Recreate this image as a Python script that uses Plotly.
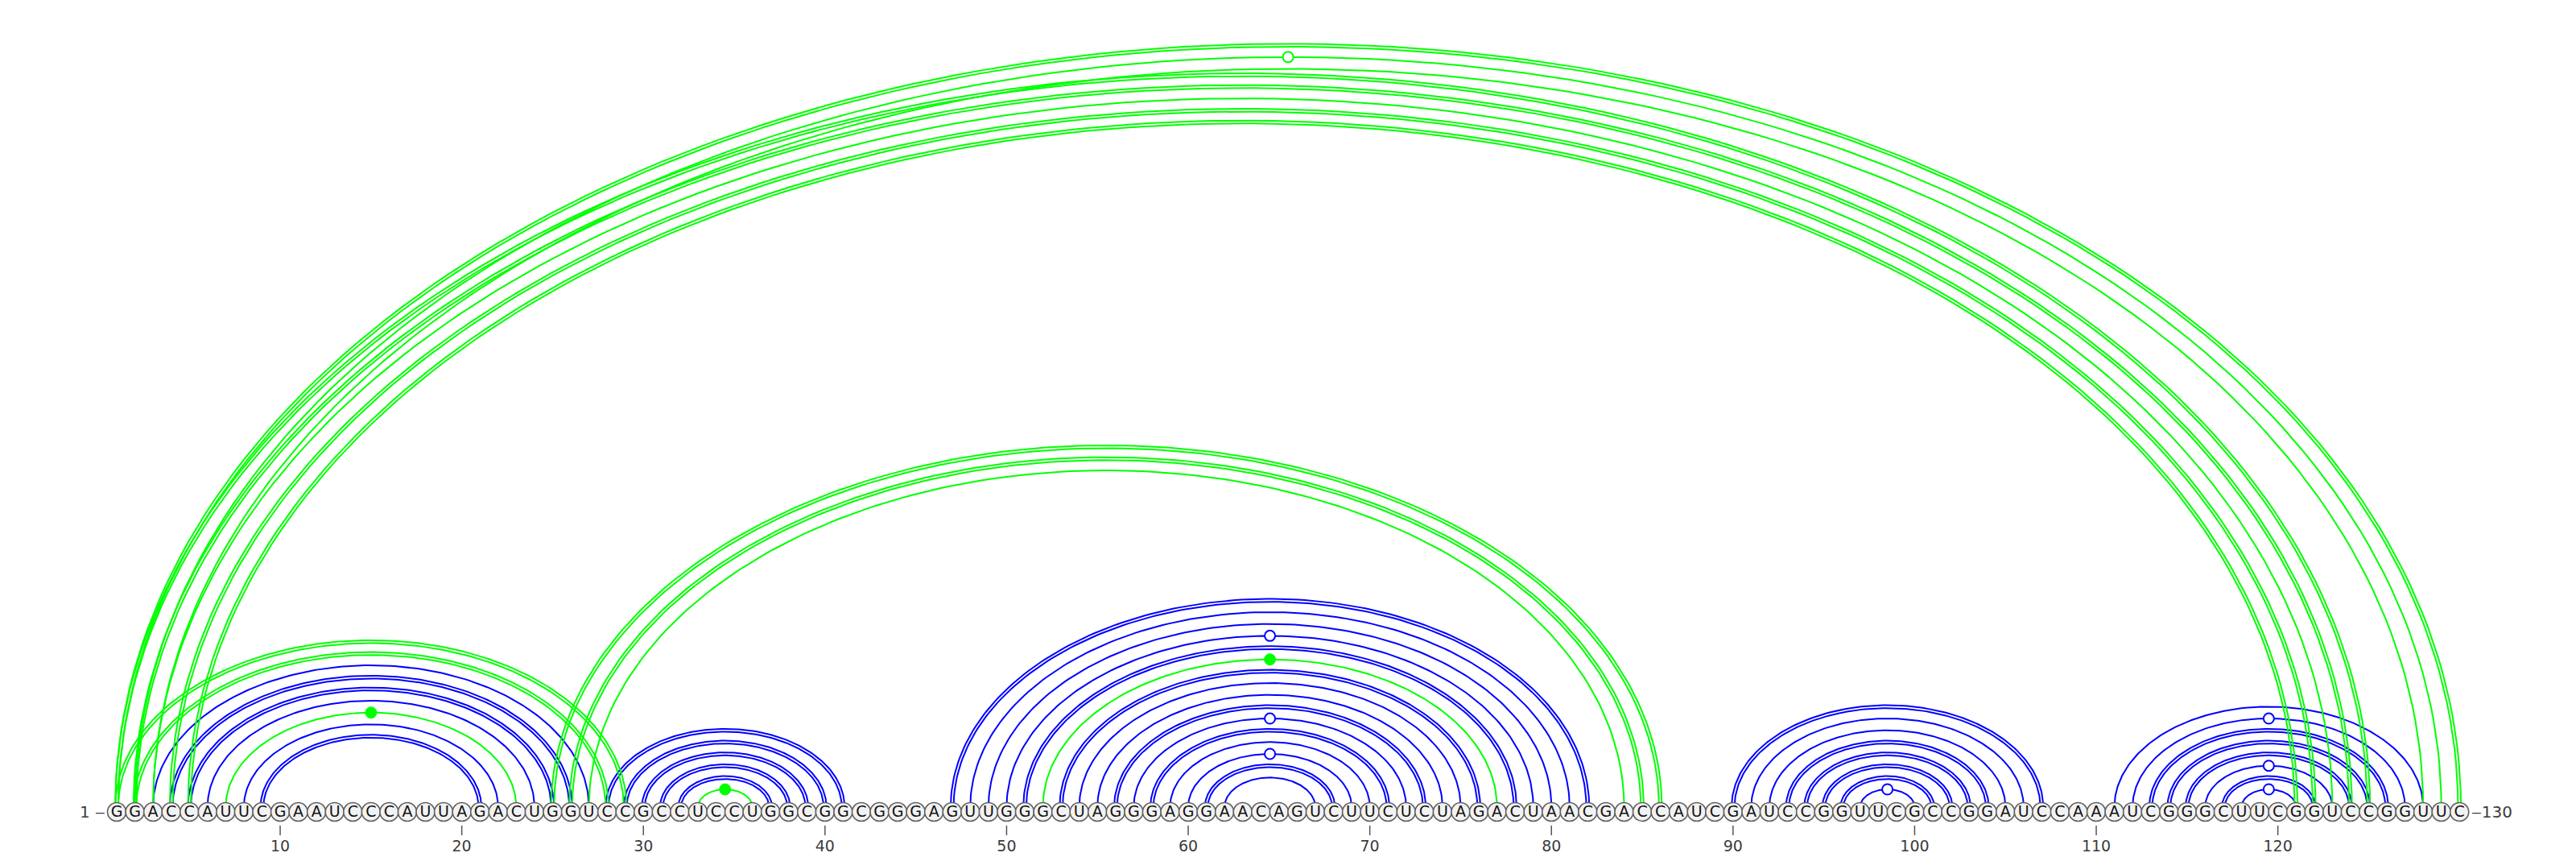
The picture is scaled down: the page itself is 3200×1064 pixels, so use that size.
import numpy as np
import plotly.graph_objects as go

# sequence (10 nt per chunk)
SEQUENCE = ("GGACCAUUCG" "AAUCCCAUUA" "GACUGGUCCG" "CCUCCUGGCG" "GCGGGAGUUG"
            "GGCUAGGGAG" "GAACAGUCUU" "CUCUAGACUA" "ACGACCAUCG" "AUCCGGUUCG"
            "CCGGAUCCAA" "AUCGGGCUUC" "GGUCCGGUUC")

# blue structure
BLUE_PAIRS = [
    (3, 27), (4, 26), (5, 25), (6, 24), (8, 22), (9, 21),
    (28, 41), (29, 40), (30, 39), (31, 38), (32, 37),
    (47, 82), (48, 81), (49, 80), (50, 79), (51, 78), (53, 76), (54, 75),
    (55, 74), (56, 73), (57, 72), (58, 71), (59, 70), (60, 69), (61, 68), (62, 67),
    (90, 107), (91, 106), (92, 105), (93, 104), (94, 103), (95, 102), (96, 101), (97, 100),
    (111, 128), (112, 127), (113, 126), (114, 125), (115, 124), (116, 123), (117, 122), (118, 121),
]

# green structure
GREEN_PAIRS = [
    (1, 29), (2, 28), (7, 23), (33, 36), (52, 77),
    (25, 86), (26, 85), (27, 84),
    (1, 125), (2, 124), (3, 123), (4, 122), (5, 121),
    (1, 130), (2, 129), (3, 128),
]

TICKS = [10, 20, 30, 40, 50, 60, 70, 80, 90, 100, 110, 120]

BLUE = "#0000ff"
GREEN = "#00ff00"
LABEL = "#3c3c3c"

W, H = 3200, 1064
PX_PER_NT = 22.56
X0_PX = 145            # pixel x of nucleotide 1
BASE_Y = 56            # circle centre (y from bottom, px)
ARC_Y0 = 62            # where arcs leave the baseline
ARC_H = 0.65 * PX_PER_NT   # arc height per nt of radius
GAP_PX = 1.8           # half gap of the double (GC) lines

N = len(SEQUENCE)


def pair_kind(i, j):
    s = {SEQUENCE[i - 1], SEQUENCE[j - 1]}
    if s == {"G", "C"}:
        return "GC"
    if s == {"A", "U"}:
        return "AU"
    if s == {"G", "U"}:
        return "GU"
    return "NC"


def arc(i, j, off=0.0):
    t = np.linspace(0, np.pi, 160)
    c = (i + j) / 2
    a = (j - i) / 2 + off / PX_PER_NT
    b = (j - i) / 2 * ARC_H + off
    return list(c - a * np.cos(t)), list(ARC_Y0 + b * np.sin(t))


def arc_traces(pairs, color):
    xs, ys = [], []
    hol_x, hol_y, fil_x, fil_y = [], [], [], []
    for i, j in pairs:
        kind = pair_kind(i, j)
        offs = [-GAP_PX, GAP_PX] if kind == "GC" else [0.0]
        for o in offs:
            x, y = arc(i, j, o)
            xs += x + [None]
            ys += y + [None]
        top = ARC_Y0 + (j - i) / 2 * ARC_H
        if kind == "GU":
            hol_x.append((i + j) / 2)
            hol_y.append(top)
        elif kind == "NC":
            fil_x.append((i + j) / 2)
            fil_y.append(top)
    lines = go.Scatter(x=xs, y=ys, mode="lines", line=dict(color=color, width=2),
                       hoverinfo="skip", showlegend=False)
    hollow = go.Scatter(x=hol_x, y=hol_y, mode="markers", hoverinfo="skip", showlegend=False,
                        marker=dict(size=13, color="white", line=dict(color=color, width=2)))
    filled = go.Scatter(x=fil_x, y=fil_y, mode="markers", hoverinfo="skip", showlegend=False,
                        marker=dict(size=14, color=color, line=dict(color=color, width=1)))
    return lines, hollow, filled


fig = go.Figure()

bl, bh, bf = arc_traces(BLUE_PAIRS, BLUE)
gl, gh, gf = arc_traces(GREEN_PAIRS, GREEN)
for tr in [bl, gl, bh, bf, gh, gf]:
    fig.add_trace(tr)

pos = list(range(1, N + 1))
fig.add_trace(go.Scatter(
    x=pos, y=[BASE_Y] * N, mode="markers", hoverinfo="skip", showlegend=False,
    marker=dict(size=23, color="#f2f2f2", line=dict(color="#616161", width=1.6)),
    cliponaxis=False))
fig.add_trace(go.Scatter(
    x=pos, y=[BASE_Y - 1] * N, mode="text", text=list(SEQUENCE), hoverinfo="skip",
    showlegend=False, textposition="middle center",
    textfont=dict(family="DejaVu Sans", size=19, color="#111111"), cliponaxis=False))

# ticks under every 10th nucleotide
tx, ty = [], []
for t in TICKS:
    tx += [t, t, None]
    ty += [39, 27, None]
fig.add_trace(go.Scatter(x=tx, y=ty, mode="lines", line=dict(color="#555555", width=1.5),
                         hoverinfo="skip", showlegend=False))
fig.add_trace(go.Scatter(
    x=TICKS, y=[12] * len(TICKS), mode="text", text=[str(t) for t in TICKS],
    textposition="middle center", hoverinfo="skip", showlegend=False,
    textfont=dict(family="DejaVu Sans", size=19, color=LABEL), cliponaxis=False))

fig.add_annotation(x=0.45, y=BASE_Y, text="1 \u2012", showarrow=False, xanchor="right",
                   font=dict(family="DejaVu Sans", size=20, color=LABEL))
fig.add_annotation(x=N + 0.55, y=BASE_Y, text=f"\u2012{N}", showarrow=False, xanchor="left",
                   font=dict(family="DejaVu Sans", size=20, color=LABEL))

fig.update_layout(
    width=W, height=H,
    margin=dict(l=0, r=0, t=0, b=0),
    paper_bgcolor="white", plot_bgcolor="white",
    xaxis=dict(range=[1 - X0_PX / PX_PER_NT, 1 + (W - X0_PX) / PX_PER_NT],
               visible=False, fixedrange=True),
    yaxis=dict(range=[0, H], visible=False, fixedrange=True),
)

fig.write_html("out.html", config={"displayModeBar": False},
               post_script="document.body.style.margin='0';document.body.style.overflow='hidden';")
